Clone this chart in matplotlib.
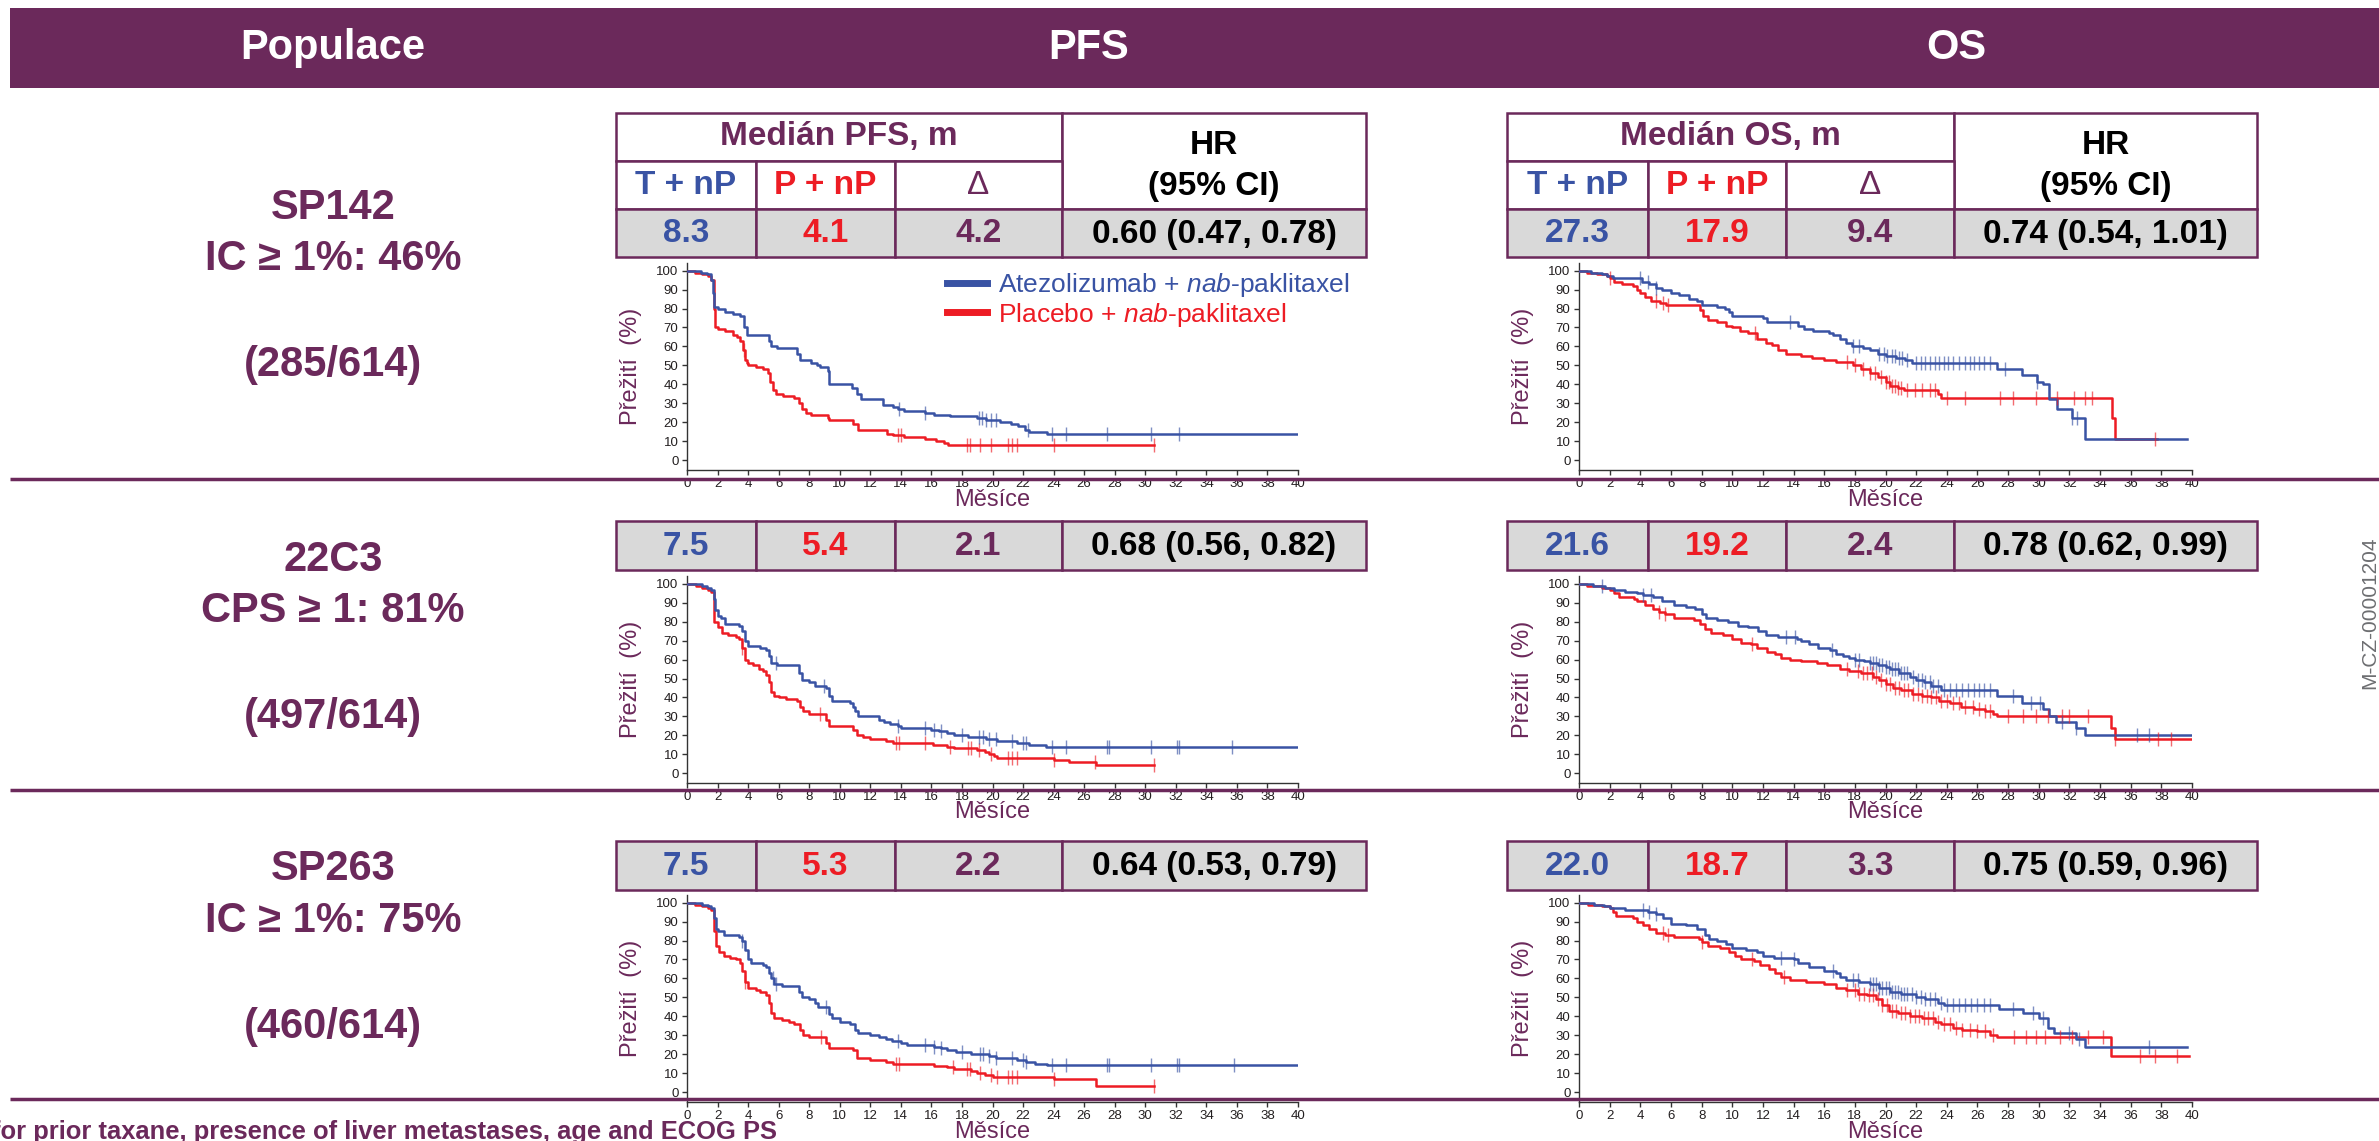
import numpy as np
import matplotlib.pyplot as plt
from matplotlib.patches import Rectangle
from matplotlib.lines import Line2D

plt.rcParams['font.family'] = ['Liberation Sans', 'DejaVu Sans']
plt.rcParams['mathtext.fontset'] = 'custom'
plt.rcParams['mathtext.rm'] = 'Liberation Sans'
plt.rcParams['mathtext.it'] = 'Liberation Sans:italic'

# ==================================================
# DATA
# ==================================================

headers = ["Populace", "PFS", "OS"]
assays = ["SP142", "22C3", "SP263"]
cutoffs = ["IC ≥ 1%: 46%", "CPS ≥ 1: 81%", "IC ≥ 1%: 75%"]
counts = ["(285/614)", "(497/614)", "(460/614)"]

pfs_med_atezo = ["8.3", "7.5", "7.5"]
pfs_med_placebo = ["4.1", "5.4", "5.3"]
pfs_delta = ["4.2", "2.1", "2.2"]
pfs_hr = ["0.60 (0.47, 0.78)", "0.68 (0.56, 0.82)", "0.64 (0.53, 0.79)"]

os_med_atezo = ["27.3", "21.6", "22.0"]
os_med_placebo = ["17.9", "19.2", "18.7"]
os_delta = ["9.4", "2.4", "3.3"]
os_hr = ["0.74 (0.54, 1.01)", "0.78 (0.62, 0.99)", "0.75 (0.59, 0.96)"]

arm_labels = [r"Atezolizumab + $\mathit{nab}$-paklitaxel",
              r"Placebo + $\mathit{nab}$-paklitaxel"]

# --- SP142 PFS ---
pfs1_atezo_t = [0, 0.9, 1.3, 1.6, 1.7, 1.8, 2.0, 2.5, 3.0, 3.5, 3.75, 3.9, 5.4, 5.5, 5.9, 7.2, 7.4,
                8.1, 8.5, 8.7, 9.2, 9.3, 10.8, 11.1, 11.4, 12.8, 13.5, 13.8, 14.2, 15.6, 16.2, 17.2,
                19.0, 19.6, 20.5, 21.2, 21.7, 22.1, 22.4, 23.6, 40]
pfs1_atezo_s = [100, 99, 98, 95, 88, 81, 80, 78, 77, 76, 70, 66, 63, 60, 59, 56, 53,
                51, 50, 49, 47, 40, 38, 35, 32, 29, 28, 27, 26, 25, 24, 23,
                22, 21, 20, 19, 18, 16, 15, 14, 14]
pfs1_atezo_c = [13.9, 15.6, 19.1, 19.3, 19.6, 19.9, 20.2, 22.3, 23.9, 24.8, 27.5, 30.4, 32.2]

pfs1_plac_t = [0, 0.5, 1.0, 1.4, 1.6, 1.75, 1.85, 2.0, 2.5, 3.0, 3.3, 3.5, 3.65, 3.8, 3.9, 4.0,
               4.5, 5.0, 5.3, 5.45, 5.6, 5.8, 6.3, 7.0, 7.3, 7.5, 7.8, 8.1, 9.2, 9.3, 10.9, 11.2,
               13.1, 13.5, 14.2, 15.6, 16.3, 16.8, 17.1, 30.6]
pfs1_plac_s = [100, 99, 98, 97, 95, 80, 70, 69, 68, 66, 65, 63, 58, 53, 51, 50,
               49, 48, 46, 41, 37, 35, 34, 33, 30, 27, 25, 24, 22, 21, 19, 16,
               14, 13, 12, 11, 10, 9, 8, 8]
pfs1_plac_c = [3.7, 13.8, 14.0, 18.3, 18.5, 19.2, 19.9, 21.0, 21.3, 21.6, 24.0, 30.6]

# --- SP142 OS ---
os1_atezo_t = [0, 0.8, 1.5, 1.8, 2.2, 4.1, 4.6, 5.0, 5.4, 6.0, 6.5, 7.2, 7.7, 8.0, 9.0, 9.5, 9.8,
               10.0, 12.0, 12.3, 14.3, 14.7, 15.3, 16.3, 16.6, 17.0, 17.4, 17.8, 18.5, 19.0, 19.5,
               20.0, 20.7, 21.3, 21.7, 27.3, 28.9, 29.9, 30.3, 30.7, 31.2, 32.2, 33.0, 39.7]
os1_atezo_s = [100, 99, 98, 97, 96, 94, 93, 91, 90, 88, 87, 85, 84, 82, 81, 80, 78,
               76, 75, 73, 71, 69, 68, 67, 66, 64, 62, 60, 59, 58, 56,
               55, 54, 53, 51, 48, 45, 41, 40, 32, 27, 22, 11, 11]
os1_atezo_c = [4.0, 4.5, 5.0, 13.8, 17.9, 18.3, 19.6, 19.9, 20.1, 20.4, 20.6, 20.9, 21.1, 21.4,
               22.0, 22.3, 22.6, 22.9, 23.2, 23.5, 23.8, 24.1, 24.4, 24.8, 25.2, 25.5, 25.8, 26.1,
               26.4, 26.8, 27.8, 29.9, 32.2, 32.5]

os1_plac_t = [0, 0.5, 1.2, 1.8, 2.0, 2.3, 2.8, 3.5, 3.8, 4.0, 4.3, 4.7, 5.3, 5.7, 7.9, 8.1, 8.4,
              9.0, 9.6, 10.0, 10.5, 11.0, 11.6, 12.2, 12.6, 13.0, 13.5, 14.5, 15.2, 16.0, 16.8,
              17.9, 18.4, 19.0, 19.5, 20.0, 20.3, 20.8, 21.2, 23.4, 23.6, 34.8, 35.0, 37.7]
os1_plac_s = [100, 99, 98, 97, 96, 94, 93, 92, 90, 88, 86, 84, 83, 82, 79, 76, 74,
              73, 71, 70, 68, 67, 64, 62, 61, 58, 56, 55, 54, 53, 52,
              50, 48, 46, 44, 41, 39, 38, 37, 35, 33, 22, 11, 11]
os1_plac_c = [2.0, 5.0, 5.5, 5.8, 11.5, 17.5, 18.0, 18.5, 19.0, 19.3, 19.7, 20.0, 20.2, 20.4,
              20.6, 20.8, 21.0, 21.4, 21.9, 22.4, 22.9, 23.2, 24.0, 25.2, 27.5, 28.3, 29.8, 31.2,
              32.3, 33.0, 33.5, 37.6]

# --- 22C3 PFS ---
pfs2_atezo_t = [0, 1.0, 1.3, 1.6, 1.75, 1.85, 2.0, 2.2, 2.5, 3.4, 3.6, 3.8, 4.0, 4.8, 5.2, 5.4, 5.5,
                5.9, 7.3, 7.5, 8.0, 8.4, 9.1, 9.3, 9.5, 10.7, 10.9, 11.0, 11.2, 12.6, 12.9, 13.3,
                13.8, 14.0, 16.0, 16.5, 17.0, 17.5, 18.4, 19.6, 20.3, 21.6, 22.4, 23.5, 40]
pfs2_atezo_s = [100, 99, 98, 97, 92, 86, 83, 82, 79, 78, 75, 70, 67, 66, 65, 62, 58,
                57, 53, 49, 48, 46, 45, 41, 38, 37, 35, 33, 30, 28, 27, 26,
                25, 24, 23, 22, 21, 20, 19, 18, 17, 16, 15, 14, 14]
pfs2_atezo_c = [5.8, 9.0, 13.8, 15.6, 16.2, 16.6, 18.0, 19.1, 19.4, 19.8, 20.2, 21.3, 22.0, 22.2,
                23.9, 24.8, 27.5, 27.6, 30.4, 32.1, 32.2, 35.7]

pfs2_plac_t = [0, 0.6, 1.0, 1.4, 1.6, 1.75, 1.8, 2.0, 2.3, 2.7, 3.2, 3.4, 3.6, 3.8, 4.0, 4.3, 4.7,
               5.0, 5.2, 5.4, 5.5, 5.7, 6.0, 6.5, 7.2, 7.4, 7.6, 8.0, 9.1, 9.3, 10.9, 11.1, 11.5,
               12.0, 13.0, 13.5, 16.1, 17.0, 17.5, 19.0, 19.5, 19.8, 20.1, 20.3, 24.0, 25.0, 26.8,
               30.6]
pfs2_plac_s = [100, 99, 98, 97, 96, 85, 80, 77, 74, 73, 72, 71, 66, 60, 58, 57, 55,
               54, 52, 48, 43, 41, 40, 39, 38, 35, 33, 31, 28, 25, 23, 20, 19,
               18, 17, 16, 15, 14, 13, 12, 11, 10, 9, 8, 7, 6, 4,
               4]
pfs2_plac_c = [3.6, 8.7, 13.7, 13.9, 15.6, 17.2, 18.4, 18.6, 19.1, 19.9, 21.0, 21.3, 21.6, 24.0,
               26.7, 30.6]

# --- 22C3 OS ---
os2_atezo_t = [0, 0.9, 1.7, 2.3, 3.0, 3.8, 4.2, 4.8, 5.4, 6.2, 7.0, 7.6, 8.0, 8.3, 9.0, 9.7, 10.4,
               11.0, 11.7, 12.2, 13.0, 14.2, 14.5, 15.0, 15.6, 16.4, 16.8, 17.2, 17.6, 18.0, 18.6,
               19.0, 19.5, 20.0, 20.3, 20.9, 21.6, 22.0, 22.5, 23.0, 23.6, 27.3, 28.9, 30.3, 30.7,
               31.1, 32.4, 33.0, 40]
os2_atezo_s = [100, 99, 98, 97, 96, 95, 94, 93, 91, 89, 88, 87, 84, 82, 81, 80, 78,
               77, 75, 73, 72, 71, 70, 68, 66, 65, 63, 62, 61, 60, 59,
               58, 57, 56, 55, 53, 51, 49, 48, 46, 44, 41, 37, 34, 30,
               27, 24, 20, 20]
os2_atezo_c = [1.5, 4.2, 4.7, 13.5, 14.1, 16.5, 18.0, 18.3, 19.0, 19.2, 19.4, 19.6, 19.8, 20.0,
               20.2, 20.4, 20.6, 20.8, 21.0, 21.2, 21.4, 21.8, 22.1, 22.4, 22.6, 22.9, 23.1, 23.4,
               23.8, 24.2, 24.6, 25.0, 25.4, 25.8, 26.1, 26.4, 26.8, 28.3, 29.5, 30.1, 31.5, 32.4,
               36.4, 37.2]

os2_plac_t = [0, 0.5, 1.5, 2.0, 2.3, 2.6, 3.6, 3.8, 4.3, 4.8, 5.2, 5.6, 6.2, 7.5, 7.9, 8.2, 8.6,
              9.4, 10.0, 10.6, 11.2, 11.6, 12.3, 12.8, 13.2, 13.8, 14.5, 15.5, 16.2, 17.0, 17.6,
              18.4, 19.2, 19.6, 20.0, 20.5, 21.0, 21.7, 22.4, 23.0, 23.5, 24.2, 24.9, 25.8, 26.5,
              27.0, 27.3, 34.7, 35.0, 40]
os2_plac_s = [100, 99, 98, 97, 95, 93, 92, 91, 89, 87, 85, 84, 82, 81, 79, 76, 74,
              73, 71, 69, 68, 66, 64, 63, 61, 60, 59, 58, 57, 55, 54,
              53, 51, 49, 47, 45, 44, 42, 41, 40, 38, 37, 35, 34, 33,
              31, 30, 24, 18, 18]
os2_plac_c = [5.2, 5.6, 11.3, 17.5, 18.2, 18.5, 18.8, 19.1, 19.4, 19.7, 20.0, 20.3, 20.6, 20.9,
              21.2, 21.5, 21.8, 22.1, 22.4, 22.7, 23.0, 23.3, 23.6, 24.0, 24.4, 24.8, 25.2, 25.7,
              26.1, 26.5, 26.8, 28.0, 29.0, 29.8, 30.6, 31.5, 32.0, 33.2, 35.0, 37.8, 38.6]

# --- SP263 PFS ---
pfs3_atezo_t = [0, 1.0, 1.4, 1.6, 1.75, 1.9, 2.0, 2.4, 3.4, 3.6, 3.8, 4.0, 4.2, 5.0, 5.2, 5.4, 5.5,
                5.7, 6.2, 7.3, 7.5, 8.0, 8.4, 8.6, 9.3, 9.5, 10.0, 10.7, 11.0, 11.2, 12.0, 12.6,
                13.0, 13.4, 14.0, 14.4, 16.2, 16.6, 17.0, 17.6, 18.6, 19.8, 20.2, 21.6, 22.2, 22.8,
                23.6, 40]
pfs3_atezo_s = [100, 99, 98, 97, 92, 86, 85, 83, 82, 80, 75, 70, 68, 67, 66, 63, 60,
                57, 56, 53, 50, 49, 47, 45, 41, 39, 37, 36, 33, 31, 30, 29,
                28, 27, 26, 25, 24, 23, 22, 21, 20, 19, 18, 17, 16, 15,
                14.5, 14.5]
pfs3_atezo_c = [3.6, 5.6, 5.8, 9.1, 13.8, 15.6, 16.2, 16.6, 18.0, 19.2, 19.4, 19.8, 20.2, 21.3,
                22.0, 22.2, 23.9, 24.8, 27.5, 27.6, 30.4, 32.1, 32.2, 35.8]

pfs3_plac_t = [0, 0.5, 1.0, 1.4, 1.6, 1.8, 1.9, 2.1, 2.4, 2.8, 3.2, 3.5, 3.6, 3.8, 4.0, 4.5, 4.8,
               5.2, 5.4, 5.5, 5.7, 6.2, 6.7, 7.0, 7.4, 7.6, 8.0, 9.1, 9.3, 10.9, 11.1, 12.0, 13.0,
               13.5, 16.2, 17.0, 17.5, 18.6, 19.0, 19.5, 20.0, 24.0, 26.8, 30.6]
pfs3_plac_s = [100, 99, 98, 97, 96, 85, 77, 74, 72, 71, 70, 68, 64, 58, 55, 54, 53,
               51, 47, 42, 39, 38, 37, 36, 33, 30, 29, 26, 23, 22, 18, 17, 16,
               15, 14, 13, 12, 11, 10, 9, 8, 7, 3, 3]
pfs3_plac_c = [3.8, 8.8, 13.7, 13.9, 17.4, 18.3, 18.5, 19.2, 19.9, 20.3, 21.0, 21.3, 21.6, 24.0,
               30.6]

# --- SP263 OS ---
os3_atezo_t = [0, 1.0, 1.6, 2.0, 3.0, 4.5, 5.0, 5.5, 6.0, 7.0, 7.7, 8.2, 8.5, 9.0, 9.6, 10.0, 10.9,
               11.6, 12.0, 12.7, 14.0, 14.3, 15.0, 16.0, 16.8, 17.0, 17.4, 18.3, 19.0, 19.6, 20.3,
               21.0, 22.0, 22.6, 23.4, 23.8, 27.4, 29.0, 30.0, 30.6, 31.0, 32.4, 33.0, 39.7]
os3_atezo_s = [100, 99, 98, 97, 96, 95, 94, 92, 89, 88, 86, 83, 81, 80, 78, 76, 75,
               74, 72, 71, 70, 68, 66, 64, 63, 61, 59, 58, 57, 55, 53,
               52, 50, 49, 47, 46, 44, 42, 39, 34, 31, 28, 24, 24]
os3_atezo_c = [4.2, 4.6, 5.0, 13.2, 14.0, 16.6, 17.9, 18.2, 19.0, 19.2, 19.4, 19.6, 19.8, 20.0,
               20.2, 20.4, 20.6, 20.8, 21.0, 21.2, 21.4, 21.7, 22.0, 22.3, 22.6, 22.9, 23.2, 23.6,
               24.0, 24.4, 24.8, 25.2, 25.6, 26.0, 26.4, 26.8, 28.3, 29.6, 30.3, 32.0, 32.6, 37.2]

os3_plac_t = [0, 0.6, 1.5, 2.0, 2.2, 2.4, 3.5, 3.8, 4.2, 4.6, 5.0, 5.6, 6.2, 7.8, 8.0, 8.4, 9.2,
              9.8, 10.2, 10.6, 11.4, 11.8, 12.4, 12.8, 13.2, 13.8, 14.8, 16.0, 16.8, 17.4, 18.2,
              18.8, 19.4, 19.8, 20.2, 20.8, 21.6, 22.4, 23.2, 23.6, 24.4, 25.0, 26.0, 26.8, 27.3,
              34.7, 39.8]
os3_plac_s = [100, 99, 98, 97, 95, 93, 92, 90, 88, 86, 84, 83, 82, 81, 79, 77, 76,
              74, 72, 70, 69, 67, 65, 63, 61, 59, 58, 57, 55, 54, 52,
              51, 49, 46, 43, 42, 40, 39, 37, 36, 34, 33, 32, 30, 29,
              19, 19]
os3_plac_c = [5.5, 5.8, 8.0, 11.3, 13.4, 17.5, 18.0, 18.3, 18.6, 18.9, 19.2, 19.5, 19.8, 20.1,
              20.4, 20.7, 21.0, 21.3, 21.6, 21.9, 22.2, 22.5, 22.8, 23.1, 23.4, 23.8, 24.2, 24.6,
              25.0, 25.5, 26.0, 26.5, 27.0, 28.4, 29.2, 29.8, 30.4, 31.4, 32.2, 33.2, 34.2, 36.6,
              37.6, 39.0]

# ==================================================
# STYLE / LAYOUT (pixels of the 2379 x 1141 canvas)
# ==================================================

W, H = 2379, 1141
PURPLE = "#6B295B"
BLUE = "#3953A4"
RED = "#ED1C24"
CELL_GREY = "#D9D9D9"

ROW_AX_TOP = [263.1, 576.4, 895.1]
ROW_AX_BOT = [469.5, 782.5, 1101.5]
PFS_X = (687, 1298)
OS_X = (1579, 2192)

PFS_COLS = [616, 756, 895, 1062, 1366]
OS_COLS = [1507, 1648, 1786, 1954, 2257]
VAL_ROWS = [(209, 257), (521, 570), (841, 890)]

fig = plt.figure(figsize=(W / 100, H / 100), dpi=100)


def add_px_axes(x0, x1, top, bot):
    return fig.add_axes([x0 / W, 1 - bot / H, (x1 - x0) / W, (bot - top) / H])


def km_curve(ax, t, s, cens, color):
    t = np.asarray(t, dtype=float)
    s = np.asarray(s, dtype=float)
    ax.step(t, s, where="post", color=color, lw=1.8, zorder=3)
    c = np.asarray(cens, dtype=float)
    idx = np.searchsorted(t, c, side="right") - 1
    ax.plot(c, s[idx], ls="none", marker="|", ms=10, mew=1.0,
            color=color, alpha=0.65, zorder=4)


def style_km(ax):
    ax.set_xlim(0, 40)
    ax.set_ylim(-5, 104)
    ax.set_xticks(range(0, 41, 2))
    ax.set_yticks(range(0, 101, 10))
    ax.tick_params(direction="out", length=3.6, width=1, labelsize=9.5,
                   pad=2.5, colors="#333333", labelcolor="#231F20")
    for side in ["top", "right"]:
        ax.spines[side].set_visible(False)
    for side in ["left", "bottom"]:
        ax.spines[side].set_linewidth(1)
        ax.spines[side].set_color("#333333")
    ax.patch.set_alpha(0)
    w = ax.get_position().width * W
    h = ax.get_position().height * H
    ax.text(-56 / w, 0.5, "Přežití  (%)", rotation=90, ha="center", va="center",
            transform=ax.transAxes, fontsize=17, color=PURPLE)
    ax.text(0.5, -30 / h, "Měsíce", ha="center", va="center",
            transform=ax.transAxes, fontsize=17, color=PURPLE)


# ==================================================
# KM PANELS
# ==================================================

pfs_curves = [
    (pfs1_atezo_t, pfs1_atezo_s, pfs1_atezo_c, pfs1_plac_t, pfs1_plac_s, pfs1_plac_c),
    (pfs2_atezo_t, pfs2_atezo_s, pfs2_atezo_c, pfs2_plac_t, pfs2_plac_s, pfs2_plac_c),
    (pfs3_atezo_t, pfs3_atezo_s, pfs3_atezo_c, pfs3_plac_t, pfs3_plac_s, pfs3_plac_c),
]
os_curves = [
    (os1_atezo_t, os1_atezo_s, os1_atezo_c, os1_plac_t, os1_plac_s, os1_plac_c),
    (os2_atezo_t, os2_atezo_s, os2_atezo_c, os2_plac_t, os2_plac_s, os2_plac_c),
    (os3_atezo_t, os3_atezo_s, os3_atezo_c, os3_plac_t, os3_plac_s, os3_plac_c),
]

for r in range(3):
    for (x0, x1), curves in [(PFS_X, pfs_curves[r]), (OS_X, os_curves[r])]:
        ax = add_px_axes(x0, x1, ROW_AX_TOP[r], ROW_AX_BOT[r])
        at, a_s, ac, pt, p_s, pc = curves
        km_curve(ax, pt, p_s, pc, RED)
        km_curve(ax, at, a_s, ac, BLUE)
        style_km(ax)
        if r == 0 and x0 == PFS_X[0]:
            handles = [Line2D([], [], color=BLUE, lw=5),
                       Line2D([], [], color=RED, lw=5)]
            leg = ax.legend(handles, arm_labels, loc="center left",
                            bbox_to_anchor=(0.4255, 0.821), frameon=False,
                            fontsize=19, handlelength=1.5, handletextpad=0.45,
                            labelspacing=0.05, borderpad=0, borderaxespad=0)
            for txt, col in zip(leg.get_texts(), [BLUE, RED]):
                txt.set_color(col)

# ==================================================
# OVERLAY: HEADER, LABELS, TABLES, SEPARATORS
# ==================================================

ax0 = fig.add_axes([0, 0, 1, 1])
ax0.set_xlim(0, W)
ax0.set_ylim(H, 0)
ax0.axis("off")
ax0.patch.set_alpha(0)

ax0.add_patch(Rectangle((10, 8), W - 10, 80, facecolor=PURPLE, edgecolor="none"))
for txt, x in zip(headers, [333, 1089, 1956]):
    ax0.text(x, 48, txt, ha="center", va="center", fontsize=30,
             fontweight="bold", color="white")

label_y = [(208, 259, 365), (560, 611, 717), (869, 921, 1027)]
for r in range(3):
    for txt, y in zip([assays[r], cutoffs[r], counts[r]], label_y[r]):
        ax0.text(333, y, txt, ha="center", va="center", fontsize=30,
                 fontweight="bold", color=PURPLE)

for y in [479, 790, 1099]:
    ax0.plot([10, W], [y, y], color=PURPLE, lw=2.5, solid_capstyle="butt")

LW = 1.8


def cell(x0, x1, y0, y1, fill):
    ax0.add_patch(Rectangle((x0, y0), x1 - x0, y1 - y0, facecolor=fill,
                            edgecolor=PURPLE, lw=LW))


def draw_table(cols, title, atezo, plac, delta, hr):
    # header block (first row only)
    cell(cols[0], cols[3], 113, 161, "white")
    cell(cols[3], cols[4], 113, 209, "white")
    for i in range(3):
        cell(cols[i], cols[i + 1], 161, 209, "white")
    ax0.text((cols[0] + cols[3]) / 2, 137, title, ha="center", va="center",
             fontsize=24, fontweight="bold", color=PURPLE)
    hx = (cols[3] + cols[4]) / 2
    ax0.text(hx, 145, "HR", ha="center", va="center", fontsize=24,
             fontweight="bold", color="black")
    ax0.text(hx, 187, "(95% CI)", ha="center", va="center", fontsize=24,
             fontweight="bold", color="black")
    for i, (txt, col, wt) in enumerate([("T + nP", BLUE, "bold"),
                                        ("P + nP", RED, "bold"),
                                        ("Δ", PURPLE, "normal")]):
        ax0.text((cols[i] + cols[i + 1]) / 2, 185, txt, ha="center", va="center",
                 fontsize=24, fontweight=wt, color=col)
    for r, (y0, y1) in enumerate(VAL_ROWS):
        for i in range(4):
            cell(cols[i], cols[i + 1], y0, y1, CELL_GREY)
        vals = [atezo[r], plac[r], delta[r], hr[r]]
        for i, (v, col) in enumerate(zip(vals, [BLUE, RED, PURPLE, "black"])):
            ax0.text((cols[i] + cols[i + 1]) / 2, (y0 + y1) / 2 + 1, v,
                     ha="center", va="center", fontsize=24, fontweight="bold",
                     color=col)


draw_table(PFS_COLS, "Medián PFS, m", pfs_med_atezo, pfs_med_placebo, pfs_delta, pfs_hr)
draw_table(OS_COLS, "Medián OS, m", os_med_atezo, os_med_placebo, os_delta, os_hr)

ax0.text(2370, 613, "M-CZ-00001204", rotation=90, ha="center", va="center",
         fontsize=15, color="#6D6E71")

ax0.text(777, 1139, "for prior taxane, presence of liver metastases, age and ECOG PS",
         ha="right", va="baseline", fontsize=18.4, fontweight="bold", color=PURPLE)

fig.savefig("out.png", dpi=100)
